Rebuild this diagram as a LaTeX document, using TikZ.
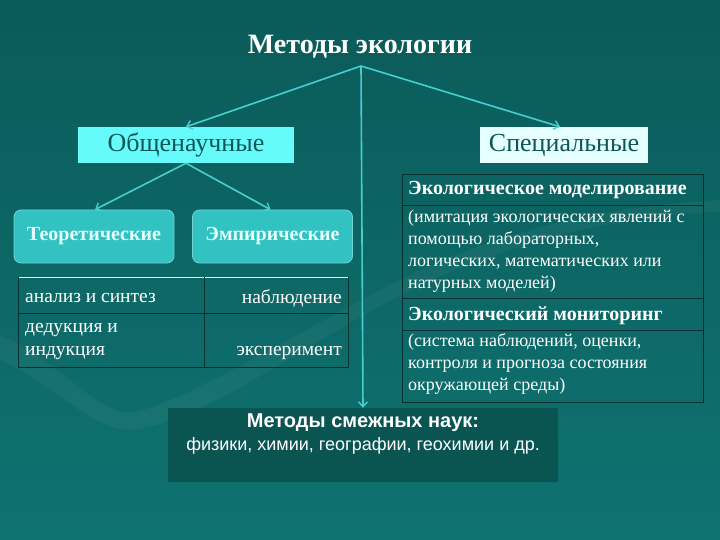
\documentclass[tikz,border=0pt]{standalone}
\usepackage{fontspec}
\setmainfont{Liberation Serif}
\setsansfont{Liberation Sans}
\usetikzlibrary{arrows.meta,positioning}
\definecolor{bgtop}{HTML}{0A5B59}
\definecolor{bgbot}{HTML}{0F7371}
\definecolor{linec}{HTML}{45CFCF}
\definecolor{cyanbox}{HTML}{66FAFA}
\definecolor{palebox}{HTML}{E6FFFF}
\definecolor{midbox}{HTML}{33C2C2}
\definecolor{darktxt}{HTML}{0B5757}
\definecolor{botbox}{HTML}{0A5452}
\definecolor{rule}{HTML}{06302F}
\tikzset{
  conn/.style={draw=linec, line width=1.6pt, -{Straight Barb[length=5pt,width=9pt,line width=1.4pt]}},
  topbox/.style={rectangle, inner sep=0pt, minimum height=36pt, font=\fontsize{26}{28}\selectfont, text=darktxt},
  subbox/.style={rectangle, rounded corners=7pt, inner sep=0pt, minimum width=160pt, minimum height=53pt, fill=midbox, draw=midbox!70!white, line width=0.8pt, text=palebox, font=\bfseries\fontsize{20}{22}\selectfont},
  celltxt/.style={inner sep=0pt, text=white, font=\fontsize{19.5}{22}\selectfont},
  rtxt/.style={inner sep=0pt, text=white, align=left, font=\fontsize{18}{22}\selectfont},
  rhead/.style={inner sep=0pt, text=white, font=\bfseries\fontsize{20}{22}\selectfont},
}
\begin{document}
\begin{tikzpicture}[x=1pt,y=-1pt]
\shade[top color=bgtop, bottom color=bgbot] (0,0) rectangle (720,540);
\useasboundingbox (0,0) rectangle (720,540);
% faint background swirl
\fill[white, opacity=0.04] (0,335) .. controls (60,360) and (100,420) .. (135,412)
  .. controls (190,400) and (300,330) .. (420,270)
  .. controls (520,225) and (620,205) .. (720,200)
  -- (720,212) .. controls (620,215) and (520,240) .. (420,285)
  .. controls (300,345) and (200,425) .. (130,430)
  .. controls (90,430) and (50,380) .. (0,360) -- cycle;

% title
\node[text=white, font=\bfseries\fontsize{28}{30}\selectfont, inner sep=0pt] (title) at (360,47) {Методы экологии};
\coordinate (apex) at (361,66);

% top level boxes
\node[topbox, fill=cyanbox, minimum width=216pt] (obsh) at (186,145) {Общенаучные};
\node[topbox, fill=palebox, minimum width=168pt] (spec) at (564,145) {Специальные};

% second level
\node[subbox] (teor) at (94,236.5) {Теоретические};
\node[subbox] (emp) at (272.5,236.5) {Эмпирические};

% bottom box
\node[rectangle, fill=botbox, minimum width=390pt, minimum height=74pt, inner sep=0pt] (smezh) at (363,445) {};
\node[text=white, font=\sffamily\bfseries\fontsize{20}{22}\selectfont, inner sep=0pt] (smezh1) at (363,423) {Методы смежных наук:};
\node[text=white, font=\sffamily\fontsize{18}{20}\selectfont, inner sep=0pt] (smezh2) at (363,446) {физики, химии, географии, геохимии и др.};

% connectors
\draw[conn] (apex) -- (obsh.north);
\draw[conn] (apex) -- ([xshift=-4pt]spec.north);
\draw[conn] (apex) -- ([xshift=0pt]smezh.north);
\draw[conn] (obsh.south) -- ([xshift=1pt]teor.north);
\draw[conn] (obsh.south) -- ([xshift=-2pt]emp.north);

% left table
\coordinate (lt1) at (18,277);
\coordinate (lt2) at (348,277);
\draw[white!85!linec, line width=1pt] (lt1) -- (lt2);
\draw[rule, line width=0.9pt] (18,277) -- (18,367) -- (348,367) -- (348,277);
\draw[rule, line width=0.9pt] (204,277) -- (204,367);
\draw[rule, line width=0.9pt] (18,313) -- (348,313);
\node[celltxt, anchor=west] (c11) at (25,298) {анализ и синтез};
\node[celltxt, anchor=east] (c12) at (342,298) {наблюдение};
\node[celltxt, anchor=west] (c21a) at (25,330) {дедукция и};
\node[celltxt, anchor=west] (c21b) at (25,353) {индукция};
\node[celltxt, anchor=east] (c22) at (342,353) {эксперимент};

% right table
\draw[rule, line width=0.9pt] (402,174) rectangle (703,402);
\draw[rule, line width=0.9pt] (402,205) -- (703,205);
\draw[rule, line width=0.9pt] (402,298) -- (703,298);
\draw[rule, line width=0.9pt] (402,330) -- (703,330);
\node[rhead, anchor=west] (h1) at (408,190) {Экологическое моделирование};
\node[rtxt, anchor=north west] (t1) at (408,210) {(имитация экологических явлений с\\помощью лабораторных,\\логических, математических или\\натурных моделей)};
\node[rhead, anchor=west] (h2) at (408,315.5) {Экологический мониторинг};
\node[rtxt, anchor=north west] (t2) at (408,333) {(система наблюдений, оценки,\\контроля и прогноза состояния\\окружающей среды)};
\end{tikzpicture}
\end{document}
